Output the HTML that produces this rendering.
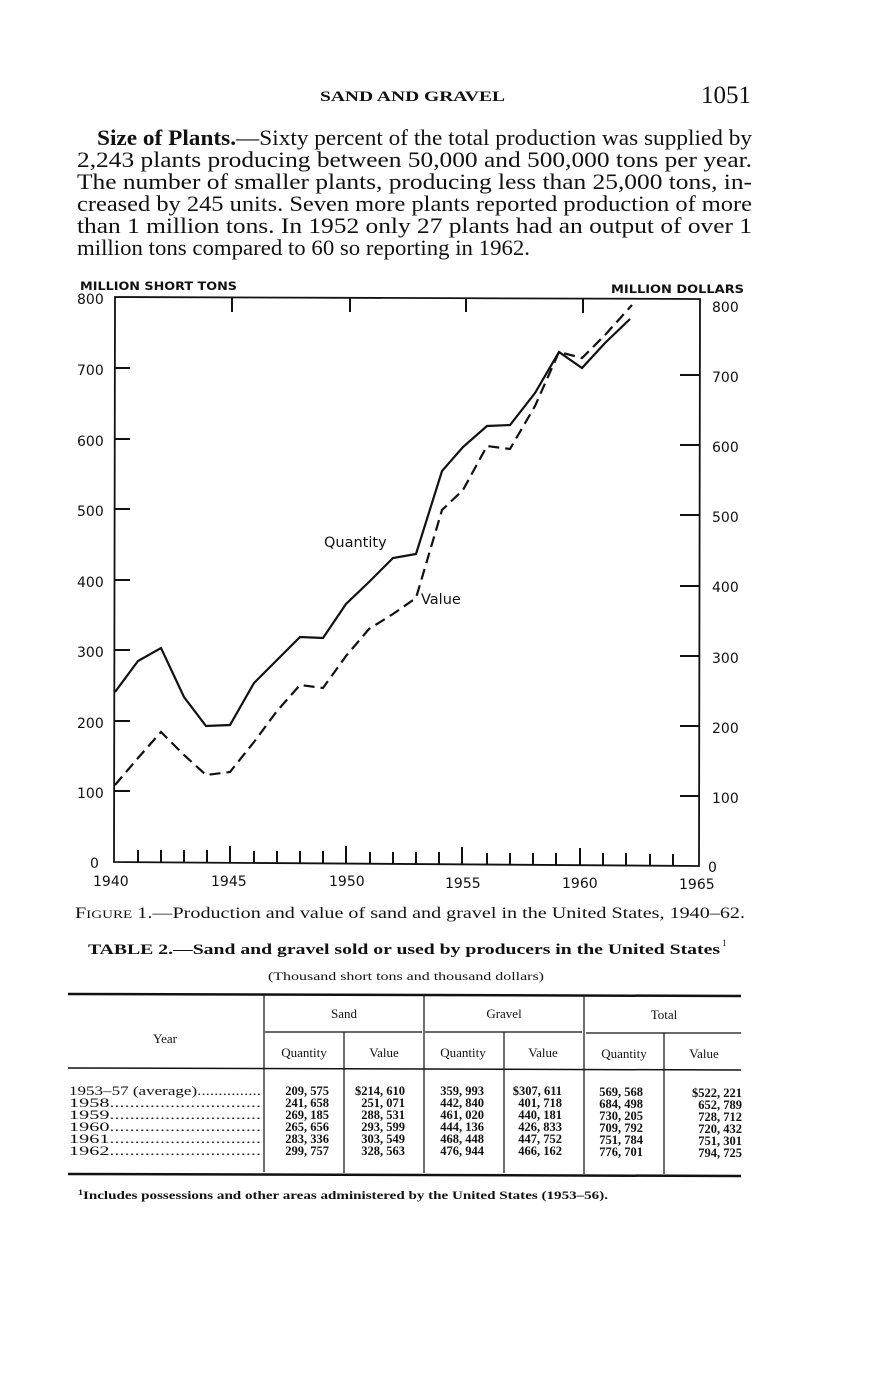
<!DOCTYPE html>
<html><head><meta charset="utf-8"><style>
html,body{margin:0;padding:0;background:#fff}
svg{display:block}
.s{font-family:"Liberation Serif",serif;fill:#111}
.a{font-family:"DejaVu Sans","Liberation Sans",sans-serif;fill:#111}
</style></head><body>
<svg width="871" height="1380" viewBox="0 0 871 1380" xmlns="http://www.w3.org/2000/svg">
<text class="s" x="320" y="101" font-size="15" font-weight="bold" textLength="185" lengthAdjust="spacingAndGlyphs">SAND AND GRAVEL</text>
<text class="s" x="701" y="103" font-size="25" textLength="50" lengthAdjust="spacingAndGlyphs">1051</text>
<g class="s" font-size="22">
<text x="97" y="145" textLength="655" lengthAdjust="spacingAndGlyphs"><tspan font-weight="bold">Size of Plants.</tspan>—Sixty percent of the total production was supplied by</text>
<text x="77" y="167" textLength="675" lengthAdjust="spacingAndGlyphs">2,243  plants  producing  between  50,000  and  500,000  tons  per  year.</text>
<text x="77" y="189" textLength="675" lengthAdjust="spacingAndGlyphs">The number of smaller plants, producing less than 25,000 tons, in-</text>
<text x="77" y="211" textLength="675" lengthAdjust="spacingAndGlyphs">creased by 245 units.   Seven more plants reported production of more</text>
<text x="77" y="233" textLength="675" lengthAdjust="spacingAndGlyphs">than 1 million tons.   In 1952 only 27 plants had an output of over 1</text>
<text x="77" y="255" textLength="453" lengthAdjust="spacingAndGlyphs">million tons compared to 60 so reporting in 1962.</text>
</g>
<g class="a" font-size="14">
<text x="80" y="290" font-size="11.5" font-weight="bold" textLength="157" lengthAdjust="spacingAndGlyphs">MILLION SHORT TONS</text>
<text x="611" y="293" font-size="11.5" font-weight="bold" textLength="133" lengthAdjust="spacingAndGlyphs">MILLION DOLLARS</text>
<text x="77" y="304">800</text><text x="77" y="375">700</text><text x="77" y="446">600</text><text x="77" y="516">500</text><text x="77" y="587">400</text><text x="77" y="657">300</text><text x="77" y="728">200</text><text x="77" y="798">100</text><text x="90" y="868">0</text>
<text x="712" y="312">800</text><text x="712" y="382">700</text><text x="712" y="452">600</text><text x="712" y="522">500</text><text x="712" y="592">400</text><text x="712" y="663">300</text><text x="712" y="733">200</text><text x="712" y="803">100</text><text x="708" y="872">0</text>
<text x="93" y="886">1940</text><text x="211" y="886">1945</text><text x="329" y="886">1950</text><text x="445" y="888">1955</text><text x="562" y="888">1960</text><text x="679" y="889">1965</text>
<text x="324" y="547" font-size="14.5">Quantity</text>
<text x="421" y="604" font-size="14.5">Value</text>
</g>
<g stroke="#111" fill="none" stroke-width="2">
<path d="M115 297 L700 299 L699 866 L114 862 Z" stroke-width="1.8"/>
<path d="M232 298v14M350 298v14M466 298v14M583 299v14"/>
<path d="M115 368h15M115 439h15M115 509h15M115 580h15M115 650h15M115 721h15M115 791h15"/>
<path d="M680 375h19M680 445h19M680 515h19M680 586h19M680 656h19M680 726h19M680 796h19"/>
<path d="M138 862v-12M161 862v-12M184 862v-12M207 862v-12M230 862v-16M254 863v-12M277 863v-12M300 863v-12M323 863v-12M346 863v-17M370 864v-12M393 864v-12M416 864v-12M439 864v-12M462 864v-17M487 865v-12M510 865v-12M533 865v-12M556 865v-12M580 865v-17M603 865v-12M626 865v-12M650 866v-12M673 866v-12"/>
<polyline stroke-width="2.2" points="115,692 138,661 161,648 184,697 206,726 230,725 254,683 277,660 300,637 323,638 346,604 369,582 393,558 416,554 442,471 463,447 487,426 510,425 535,393 559,352 582,368 605,343 630,319"/>
<polyline stroke-width="2.2" stroke-dasharray="11,6" points="115,785 138,758 161,732 184,755 206,775 230,772 254,742 277,711 300,685 323,688 346,656 369,629 393,614 416,598 442,510 463,490 487,446 510,449 535,406 559,352 582,358 605,335 632,305"/>
</g>
<text class="s" x="75" y="918" font-size="16" textLength="670" lengthAdjust="spacingAndGlyphs">F<tspan font-size="12">IGURE</tspan> 1.—Production and value of sand and gravel in the United States, 1940–62.</text>
<text class="s" x="88" y="954" font-size="15" font-weight="bold" textLength="632" lengthAdjust="spacingAndGlyphs">TABLE 2.—Sand and gravel sold or used by producers in the United States</text>
<text class="s" x="722" y="946" font-size="9">1</text>
<text class="s" x="268" y="980" font-size="12" textLength="276" lengthAdjust="spacingAndGlyphs">(Thousand short tons and thousand dollars)</text>
<g stroke="#111" fill="none">
<path d="M68 994L741 996" stroke-width="2.5"/>
<path d="M265 1032H422M425 1032H582M586 1033H741" stroke-width="1.2"/>
<path d="M68 1068L741 1070" stroke-width="1.5"/>
<path d="M68 1174L741 1176" stroke-width="2.5"/>
<path d="M264 995V1172M424 995V1173M584 996V1174M344 1032V1173M504 1032V1173M664 1033V1174" stroke-width="1.2"/>
</g>
<g class="s" font-size="13" text-anchor="middle">
<text x="165" y="1043">Year</text>
<text x="344" y="1018">Sand</text><text x="504" y="1018">Gravel</text><text x="664" y="1019">Total</text>
<text x="304" y="1057">Quantity</text><text x="384" y="1057">Value</text><text x="463" y="1057">Quantity</text><text x="543" y="1057">Value</text><text x="624" y="1058">Quantity</text><text x="704" y="1058">Value</text>
</g>
<g class="s" font-size="12.5">
<text x="69" y="1095" textLength="192" lengthAdjust="spacingAndGlyphs">1953–57 (average)...............</text>
<text x="69" y="1107" textLength="192" lengthAdjust="spacingAndGlyphs">1958..............................</text>
<text x="69" y="1119" textLength="192" lengthAdjust="spacingAndGlyphs">1959..............................</text>
<text x="69" y="1131" textLength="192" lengthAdjust="spacingAndGlyphs">1960..............................</text>
<text x="69" y="1143" textLength="192" lengthAdjust="spacingAndGlyphs">1961..............................</text>
<text x="69" y="1155" textLength="192" lengthAdjust="spacingAndGlyphs">1962..............................</text>
</g>
<g class="s" font-size="12.5" font-weight="bold" text-anchor="end">
<text x="329" y="1095">209, 575</text><text x="329" y="1107">241, 658</text><text x="329" y="1119">269, 185</text><text x="329" y="1131">265, 656</text><text x="329" y="1143">283, 336</text><text x="329" y="1155">299, 757</text>
<text x="405" y="1095">$214, 610</text><text x="405" y="1107">251, 071</text><text x="405" y="1119">288, 531</text><text x="405" y="1131">293, 599</text><text x="405" y="1143">303, 549</text><text x="405" y="1155">328, 563</text>
<text x="484" y="1095">359, 993</text><text x="484" y="1107">442, 840</text><text x="484" y="1119">461, 020</text><text x="484" y="1131">444, 136</text><text x="484" y="1143">468, 448</text><text x="484" y="1155">476, 944</text>
<text x="562" y="1095">$307, 611</text><text x="562" y="1107">401, 718</text><text x="562" y="1119">440, 181</text><text x="562" y="1131">426, 833</text><text x="562" y="1143">447, 752</text><text x="562" y="1155">466, 162</text>
<text x="643" y="1096">569, 568</text><text x="643" y="1108">684, 498</text><text x="643" y="1120">730, 205</text><text x="643" y="1132">709, 792</text><text x="643" y="1144">751, 784</text><text x="643" y="1156">776, 701</text>
<text x="742" y="1097">$522, 221</text><text x="742" y="1109">652, 789</text><text x="742" y="1121">728, 712</text><text x="742" y="1133">720, 432</text><text x="742" y="1145">751, 301</text><text x="742" y="1157">794, 725</text>
</g>
<text class="s" x="78" y="1199" font-size="12" font-weight="bold" textLength="530" lengthAdjust="spacingAndGlyphs"><tspan font-size="8" dy="-4">1</tspan><tspan dy="4">Includes possessions and other areas administered by the United States (1953–56).</tspan></text>
</svg>
</body></html>
